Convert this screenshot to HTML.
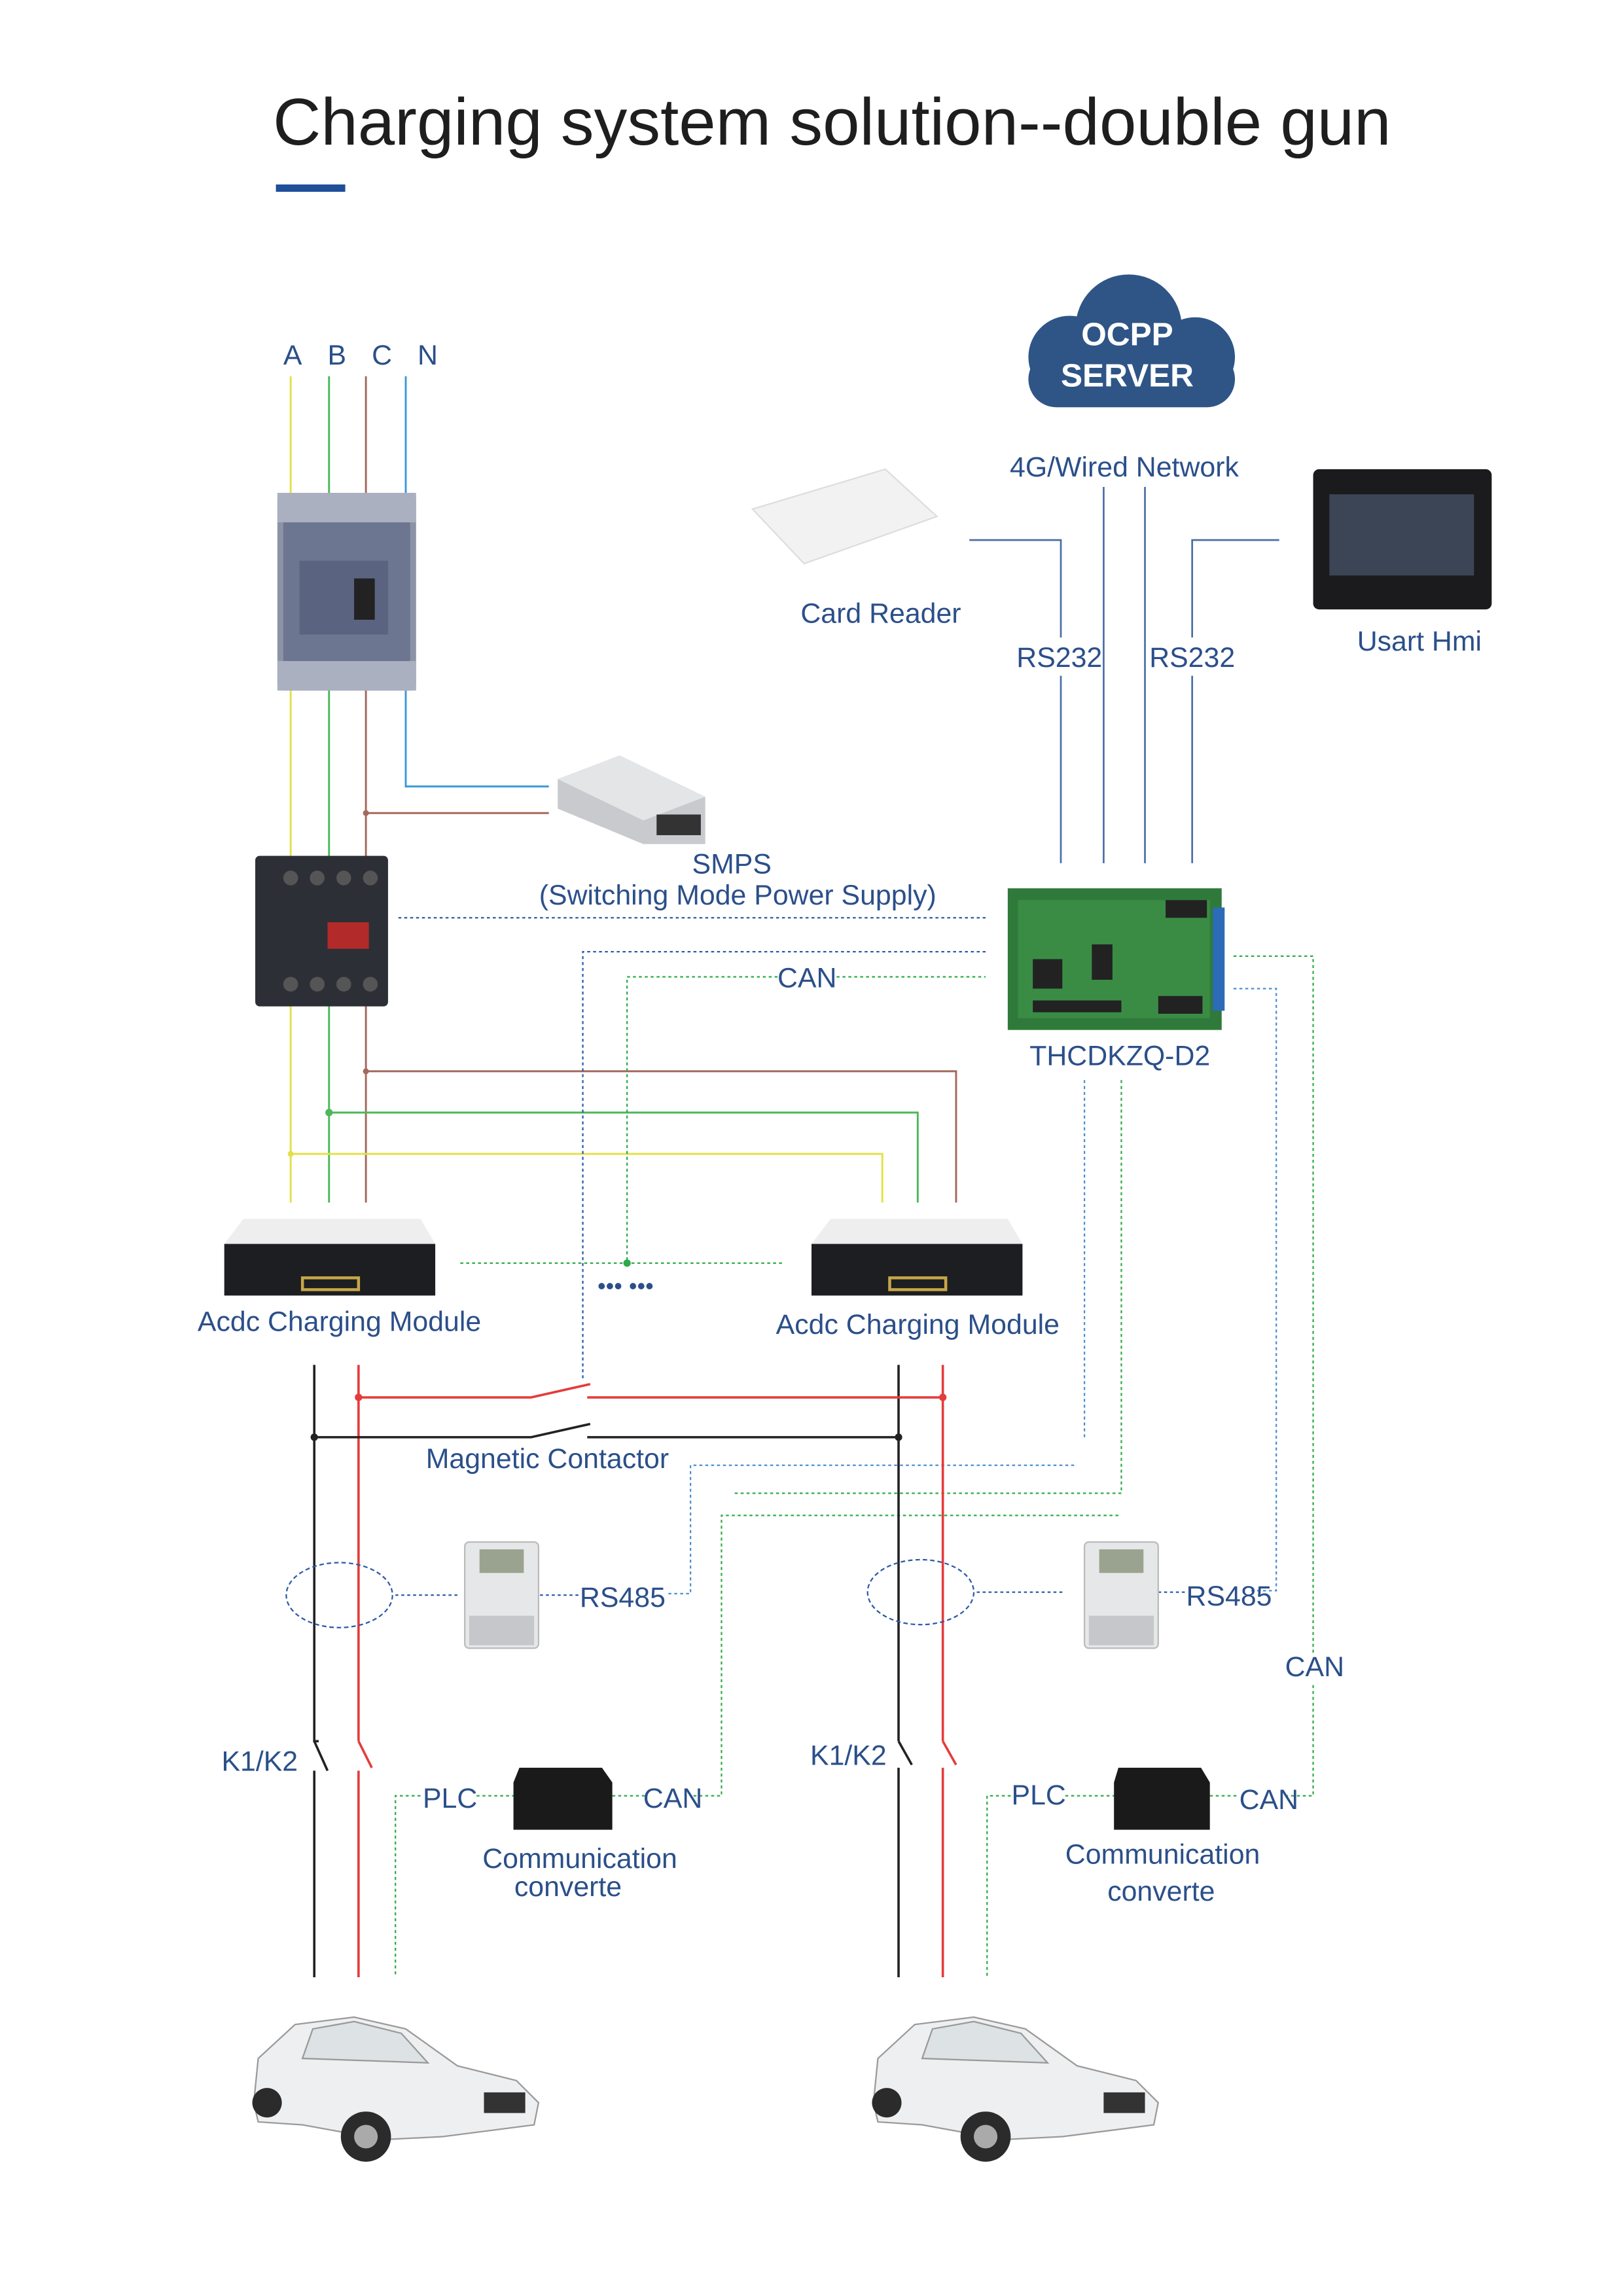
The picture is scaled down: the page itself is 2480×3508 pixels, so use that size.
<!DOCTYPE html>
<html><head><meta charset="utf-8"><style>
html,body{margin:0;padding:0;background:#fff;}
svg{display:block;}
text{font-family:"Liberation Sans",sans-serif;fill:#2b4f8a;}
</style></head><body>
<svg width="2480" height="3508" viewBox="0 0 1100 1556" preserveAspectRatio="none" xmlns="http://www.w3.org/2000/svg">
<rect width="1100" height="1556" fill="#fff"/>
<text x="185" y="98" font-size="45" style="fill:#1e1e1e">Charging system solution--double gun</text>
<rect x="187" y="125" width="47" height="5" fill="#1f4e9a"/>

<!-- ABCN -->
<g font-size="19"><text x="192" y="247">A</text><text x="222" y="247">B</text><text x="252" y="247">C</text><text x="283" y="247">N</text></g>
<g stroke-width="1.3" fill="none">
<line x1="197" y1="255" x2="197" y2="815" stroke="#e3e04a"/>
<line x1="223" y1="255" x2="223" y2="815" stroke="#4cb85a"/>
<line x1="248" y1="255" x2="248" y2="815" stroke="#a36a5c"/>
<polyline points="275,255 275,533 372,533" stroke="#3a9ad9"/>
<polyline points="248,551 372,551" stroke="#a36a5c"/>
<polyline points="248,726 648,726 648,815" stroke="#a36a5c"/>
<polyline points="223,754 622,754 622,815" stroke="#4cb85a"/>
<polyline points="197,782 598,782 598,815" stroke="#e3e04a"/>
</g>
<circle cx="248" cy="551" r="2" fill="#a36a5c"/><circle cx="248" cy="726" r="2" fill="#a36a5c"/>
<circle cx="223" cy="754" r="2.5" fill="#4cb85a"/><circle cx="197" cy="782" r="2" fill="#e3e04a"/>

<!-- breaker -->
<rect x="188" y="334" width="94" height="134" rx="4" fill="#8c93a6"/>
<rect x="192" y="352" width="86" height="96" fill="#6d7690"/>
<rect x="203" y="380" width="60" height="50" fill="#5a6480"/>
<rect x="240" y="392" width="14" height="28" fill="#222"/>
<rect x="188" y="334" width="94" height="20" fill="#aab0bf"/>
<rect x="188" y="448" width="94" height="20" fill="#aab0bf"/>
<!-- contactor -->
<rect x="173" y="580" width="90" height="102" rx="3" fill="#2d2f36"/>
<rect x="222" y="625" width="28" height="18" fill="#b32a2a"/>
<g fill="#555"><circle cx="197" cy="595" r="5"/><circle cx="215" cy="595" r="5"/><circle cx="233" cy="595" r="5"/><circle cx="251" cy="595" r="5"/><circle cx="197" cy="667" r="5"/><circle cx="215" cy="667" r="5"/><circle cx="233" cy="667" r="5"/><circle cx="251" cy="667" r="5"/></g>
<!-- SMPS -->
<polygon points="378,528 420,512 478,540 478,572 436,572 378,548" fill="#c8cacd"/>
<polygon points="378,528 420,512 478,540 436,556" fill="#e4e5e7"/>
<rect x="445" y="552" width="30" height="14" fill="#333"/>
<text x="496" y="592" font-size="19" text-anchor="middle">SMPS</text>
<text x="500" y="613" font-size="19" text-anchor="middle">(Switching Mode Power Supply)</text>

<!-- dashed control lines -->
<g fill="none" stroke-width="1" stroke-dasharray="2,2">
<line x1="270" y1="622" x2="668" y2="622" stroke="#2d5aa8"/>
<polyline points="668,645 395,645 395,935" stroke="#2d5aa8"/>
<polyline points="527,662 425,662 425,856" stroke="#2eaa4a"/>
<line x1="567" y1="662" x2="668" y2="662" stroke="#2eaa4a"/>
<line x1="312" y1="856" x2="530" y2="856" stroke="#2eaa4a"/>
<line x1="735" y1="732" x2="735" y2="975" stroke="#4a8fd0"/>
<polyline points="760,732 760,1012 498,1012" stroke="#2eaa4a"/>
<polyline points="470,1217 489,1217 489,1027 760,1027" stroke="#2eaa4a"/>
<line x1="470" y1="993" x2="730" y2="993" stroke="#4a8fd0"/>
<polyline points="468,993 468,1080 452,1080" stroke="#4a8fd0"/>
<polyline points="836,670 865,670 865,1078 846,1078" stroke="#4a8fd0"/>
<polyline points="836,648 890,648 890,1120" stroke="#2eaa4a"/>
<polyline points="890,1142 890,1217 872,1217" stroke="#2eaa4a"/>
<line x1="268" y1="1081" x2="312" y2="1081" stroke="#2d5aa8"/>
<line x1="662" y1="1079" x2="720" y2="1079" stroke="#2d5aa8"/>
<line x1="366" y1="1081" x2="394" y2="1081" stroke="#2d5aa8"/>
<line x1="785" y1="1079" x2="805" y2="1079" stroke="#2d5aa8"/>
<polyline points="285,1217 268,1217 268,1340" stroke="#2eaa4a"/>
<line x1="323" y1="1217" x2="350" y2="1217" stroke="#2eaa4a"/>
<polyline points="685,1217 669,1217 669,1340" stroke="#2eaa4a"/>
<line x1="722" y1="1217" x2="755" y2="1217" stroke="#2eaa4a"/>
<line x1="415" y1="1217" x2="437" y2="1217" stroke="#2eaa4a"/>
<line x1="820" y1="1217" x2="840" y2="1217" stroke="#2eaa4a"/>
</g>
<circle cx="425" cy="856" r="2.5" fill="#2eaa4a"/>
<text x="547" y="669" font-size="19" text-anchor="middle">CAN</text>
<text x="424" y="877" font-size="16" text-anchor="middle" style="fill:#2b4f8a">••• •••</text>

<!-- controller -->
<rect x="683" y="602" width="145" height="96" fill="#2f7a3a"/>
<rect x="690" y="610" width="130" height="80" fill="#3a8c45"/>
<g fill="#222"><rect x="790" y="610" width="28" height="12"/><rect x="700" y="650" width="20" height="20"/><rect x="740" y="640" width="14" height="24"/><rect x="785" y="675" width="30" height="12"/><rect x="700" y="678" width="60" height="8"/></g>
<rect x="822" y="615" width="8" height="70" fill="#2b6bb8"/>
<text x="759" y="722" font-size="19" text-anchor="middle">THCDKZQ-D2</text>

<!-- OCPP cloud -->
<g fill="#2f5587"><circle cx="765" cy="222" r="36"/><circle cx="725" cy="242" r="28"/><circle cx="810" cy="242" r="27"/><rect x="697" y="238" width="140" height="38" rx="19"/></g>
<text x="764" y="234" font-size="22" font-weight="bold" text-anchor="middle" style="fill:#fff">OCPP</text>
<text x="764" y="262" font-size="22" font-weight="bold" text-anchor="middle" style="fill:#fff">SERVER</text>
<text x="762" y="323" font-size="19" text-anchor="middle">4G/Wired Network</text>
<g stroke="#4a6fa5" stroke-width="1.2" fill="none">
<line x1="748" y1="330" x2="748" y2="585"/><line x1="776" y1="330" x2="776" y2="585"/>
<polyline points="657,366 719,366 719,432"/><line x1="719" y1="458" x2="719" y2="585"/>
<polyline points="867,366 808,366 808,432"/><line x1="808" y1="458" x2="808" y2="585"/>
</g>
<text x="718" y="452" font-size="19" text-anchor="middle">RS232</text>
<text x="808" y="452" font-size="19" text-anchor="middle">RS232</text>
<!-- card reader -->
<polygon points="510,345 600,318 635,350 545,382" fill="#f2f2f2" stroke="#ddd"/>
<text x="597" y="422" font-size="19" text-anchor="middle">Card Reader</text>
<!-- HMI -->
<rect x="890" y="318" width="121" height="95" rx="4" fill="#1b1b1d"/>
<rect x="901" y="335" width="98" height="55" fill="#3c4556"/>
<text x="962" y="441" font-size="19" text-anchor="middle">Usart Hmi</text>

<!-- modules -->
<polygon points="165,826 285,826 295,843 152,843" fill="#eee"/>
<rect x="152" y="843" width="143" height="35" fill="#1c1e22"/>
<rect x="205" y="866" width="38" height="8" fill="none" stroke="#c9a646" stroke-width="2"/>
<polygon points="563,826 683,826 693,843 550,843" fill="#eee"/>
<rect x="550" y="843" width="143" height="35" fill="#1c1e22"/>
<rect x="603" y="866" width="38" height="8" fill="none" stroke="#c9a646" stroke-width="2"/>
<text x="230" y="902" font-size="19" text-anchor="middle">Acdc Charging Module</text>
<text x="622" y="904" font-size="19" text-anchor="middle">Acdc Charging Module</text>

<!-- power lines -->
<g stroke-width="1.6" fill="none">
<polyline points="213,925 213,1180 216,1180" stroke="#222"/>
<line x1="213" y1="1200" x2="213" y2="1340" stroke="#222"/>
<line x1="213" y1="1180" x2="222" y2="1200" stroke="#222"/>
<line x1="243" y1="925" x2="243" y2="1180" stroke="#e53b3b"/>
<line x1="243" y1="1180" x2="252" y2="1198" stroke="#e53b3b"/>
<line x1="243" y1="1200" x2="243" y2="1340" stroke="#e53b3b"/>
<line x1="609" y1="925" x2="609" y2="1180" stroke="#222"/>
<line x1="609" y1="1180" x2="618" y2="1196" stroke="#222"/>
<line x1="609" y1="1198" x2="609" y2="1340" stroke="#222"/>
<line x1="639" y1="925" x2="639" y2="1180" stroke="#e53b3b"/>
<line x1="639" y1="1180" x2="648" y2="1196" stroke="#e53b3b"/>
<line x1="639" y1="1198" x2="639" y2="1340" stroke="#e53b3b"/>
<polyline points="243,947 360,947 400,938" stroke="#e53b3b"/>
<line x1="398" y1="947" x2="639" y2="947" stroke="#e53b3b"/>
<polyline points="213,974 360,974 400,965" stroke="#222"/>
<line x1="398" y1="974" x2="609" y2="974" stroke="#222"/>
</g>
<circle cx="243" cy="947" r="2.5" fill="#e53b3b"/><circle cx="639" cy="947" r="2.5" fill="#e53b3b"/>
<circle cx="213" cy="974" r="2.5" fill="#222"/><circle cx="609" cy="974" r="2.5" fill="#222"/>
<text x="371" y="995" font-size="19" text-anchor="middle">Magnetic Contactor</text>

<ellipse cx="230" cy="1081" rx="36" ry="22" fill="none" stroke="#2d5aa8" stroke-dasharray="3,2"/>
<ellipse cx="624" cy="1079" rx="36" ry="22" fill="none" stroke="#2d5aa8" stroke-dasharray="3,2"/>
<!-- meters -->
<rect x="315" y="1045" width="50" height="72" rx="3" fill="#e6e7e8" stroke="#bbb"/>
<rect x="325" y="1050" width="30" height="16" fill="#9aa38f"/><rect x="318" y="1095" width="44" height="20" fill="#c5c7ca"/>
<rect x="735" y="1045" width="50" height="72" rx="3" fill="#e6e7e8" stroke="#bbb"/>
<rect x="745" y="1050" width="30" height="16" fill="#9aa38f"/><rect x="738" y="1095" width="44" height="20" fill="#c5c7ca"/>
<text x="422" y="1089" font-size="19" text-anchor="middle">RS485</text>
<text x="833" y="1088" font-size="19" text-anchor="middle">RS485</text>
<text x="891" y="1136" font-size="19" text-anchor="middle">CAN</text>
<text x="176" y="1200" font-size="19" text-anchor="middle">K1/K2</text>
<text x="575" y="1196" font-size="19" text-anchor="middle">K1/K2</text>
<!-- converters -->
<polygon points="352,1198 408,1198 415,1208 415,1240 348,1240 348,1208" fill="#1a1a1a"/>
<polygon points="758,1198 814,1198 820,1208 820,1240 755,1240 755,1208" fill="#1a1a1a"/>
<text x="305" y="1225" font-size="19" text-anchor="middle">PLC</text>
<text x="456" y="1225" font-size="19" text-anchor="middle">CAN</text>
<text x="704" y="1223" font-size="19" text-anchor="middle">PLC</text>
<text x="860" y="1226" font-size="19" text-anchor="middle">CAN</text>
<text x="393" y="1266" font-size="19" text-anchor="middle">Communication</text>
<text x="385" y="1285" font-size="19" text-anchor="middle">converte</text>
<text x="788" y="1263" font-size="19" text-anchor="middle">Communication</text>
<text x="787" y="1288" font-size="19" text-anchor="middle">converte</text>

<!-- cars -->
<g id="car">
<path d="M172,1425 L175,1395 L200,1372 L240,1367 L275,1375 L310,1400 L350,1410 L365,1425 L362,1440 L300,1448 L260,1450 L205,1440 L175,1438 Z" fill="#eeeff0" stroke="#9a9a9a"/>
<path d="M205,1395 L212,1375 L240,1370 L272,1378 L290,1398 Z" fill="#dde2e4" stroke="#999"/>
<rect x="328" y="1418" width="28" height="14" fill="#333"/>
<circle cx="181" cy="1425" r="10" fill="#2b2b2b"/>
<circle cx="248" cy="1448" r="17" fill="#2b2b2b"/><circle cx="248" cy="1448" r="8" fill="#aaa"/>
</g>
<use href="#car" x="420" y="0"/>
</svg>
</body></html>
